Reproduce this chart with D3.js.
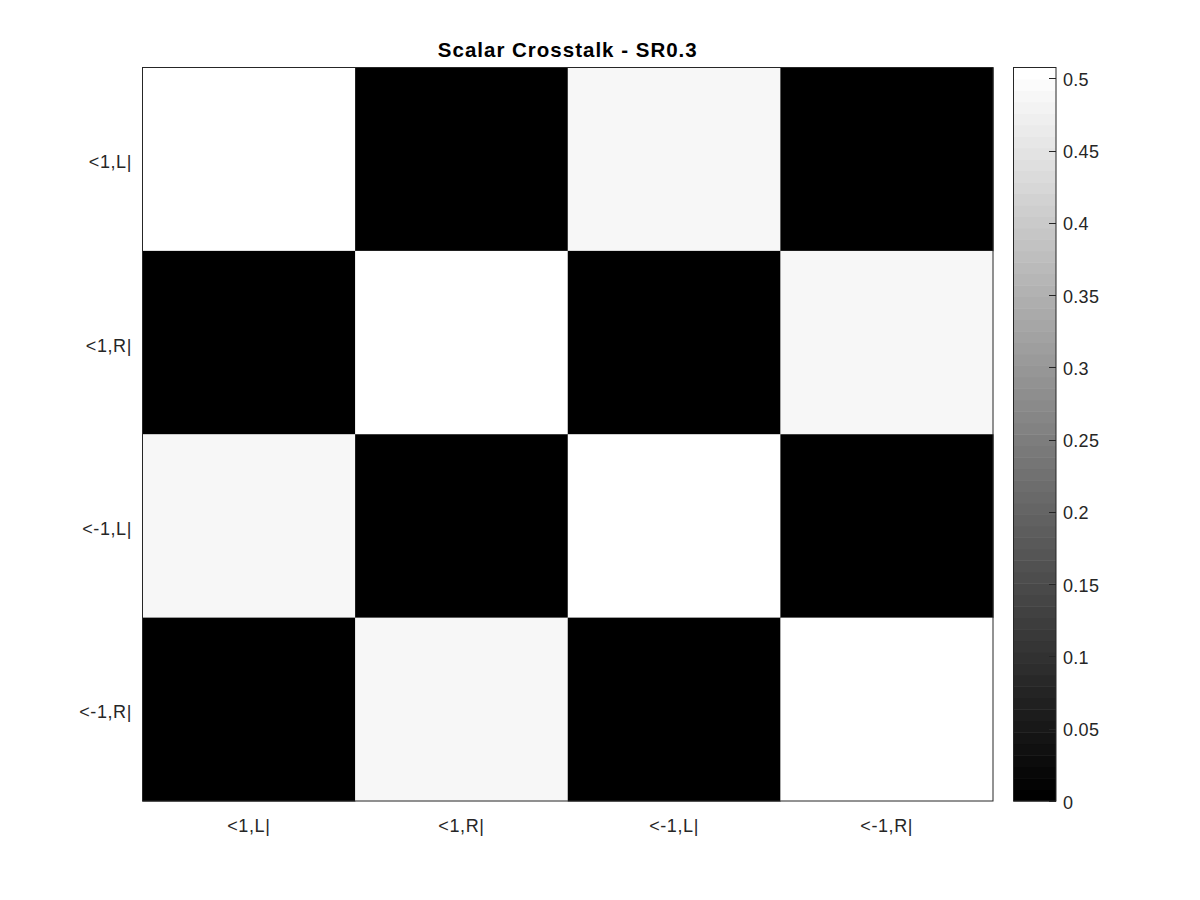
<!DOCTYPE html>
<html><head><meta charset="utf-8">
<script src="https://cdn.jsdelivr.net/npm/d3@7"></script>
<style>body{margin:0;background:#fff}svg{display:block;font-family:"Liberation Sans",Arial,sans-serif}</style>
</head><body><svg id="c" width="1200" height="900"></svg>
<script>
const categories = ["<1,L|","<1,R|","<-1,L|","<-1,R|"];
const row0 = [0.5076, 0.0, 0.49, 0.0];
const row1 = [0.0, 0.5076, 0.0, 0.49];
const row2 = [0.49, 0.0, 0.5076, 0.0];
const row3 = [0.0, 0.49, 0.0, 0.5076];
const rows = [row0, row1, row2, row3];
const colorbarTicks = [0,0.05,0.1,0.15,0.2,0.25,0.3,0.35,0.4,0.45,0.5];
const cmin = 0, cmax = 0.5076, nLevels = 64;
const title = "Scalar Crosstalk - SR0.3";

const svg = d3.select("#c");
const L = 142.5, R = 993, T = 67.5, B = 801;
const x = d3.scaleBand().domain(d3.range(4)).range([L, R]);
const y = d3.scaleBand().domain(d3.range(4)).range([T, B]);
const grays = d3.range(nLevels).map(i => { const g = Math.round(i/(nLevels-1)*255); return d3.rgb(g,g,g).toString(); });
const color = d3.scaleQuantize().domain([cmin, cmax]).range(grays);

const cells = [];
rows.forEach((r, i) => r.forEach((v, j) => cells.push({i, j, v})));
svg.append("g").selectAll("rect").data(cells).join("rect")
  .attr("x", d => x(d.j)).attr("y", d => y(d.i))
  .attr("width", x.bandwidth()+0.5).attr("height", y.bandwidth()+0.5)
  .attr("fill", d => color(d.v));

svg.append("rect").attr("x", L).attr("y", T).attr("width", R-L).attr("height", B-T)
  .attr("fill","none").attr("stroke","#262626").attr("stroke-width",1);

const lbl = {"font-size":18, "letter-spacing":"0.6px", fill:"#262626"};
// axis labels
const xl = svg.append("g").selectAll("text").data(categories).join("text")
  .attr("x", (d,i) => x(i)+x.bandwidth()/2).attr("y", B+31)
  .attr("text-anchor","middle").text(d=>d);
const yl = svg.append("g").selectAll("text").data(categories).join("text")
  .attr("x", L-10.5).attr("y", (d,i) => y(i)+y.bandwidth()/2+9)
  .attr("text-anchor","end").text(d=>d);
for (const k in lbl) { xl.attr(k, lbl[k]); yl.attr(k, lbl[k]); }

svg.append("text").attr("x", (L+R)/2).attr("y", 57).attr("text-anchor","middle")
  .attr("font-size",20.5).attr("letter-spacing","1px").attr("font-weight","bold").attr("fill","#000").text(title);

// colorbar
const CL = 1013.5, CR = 1056;
const cy = d3.scaleLinear().domain([cmin, cmax]).range([B, T]);
const step = (cmax-cmin)/nLevels;
svg.append("g").selectAll("rect").data(d3.range(nLevels)).join("rect")
  .attr("x", CL).attr("width", CR-CL)
  .attr("y", i => cy(cmin+(i+1)*step)).attr("height", i => cy(cmin+i*step)-cy(cmin+(i+1)*step)+0.5)
  .attr("fill", i => grays[i]);
svg.append("rect").attr("x", CL).attr("y", T).attr("width", CR-CL).attr("height", B-T)
  .attr("fill","none").attr("stroke","#262626").attr("stroke-width",1);
const tg = svg.append("g").selectAll("g").data(colorbarTicks).join("g");
tg.append("line").attr("x1", CR-7).attr("x2", CR).attr("y1", d=>Math.round(cy(d))+0.5).attr("y2", d=>Math.round(cy(d))+0.5)
  .attr("stroke","#262626").attr("stroke-width",1);
tg.append("text").attr("x", CR+7).attr("y", d=>cy(d)+7.5).attr("font-size",18).attr("letter-spacing","0.3px").attr("fill","#262626").text(d=>d3.format("~g")(d));
</script></body></html>
